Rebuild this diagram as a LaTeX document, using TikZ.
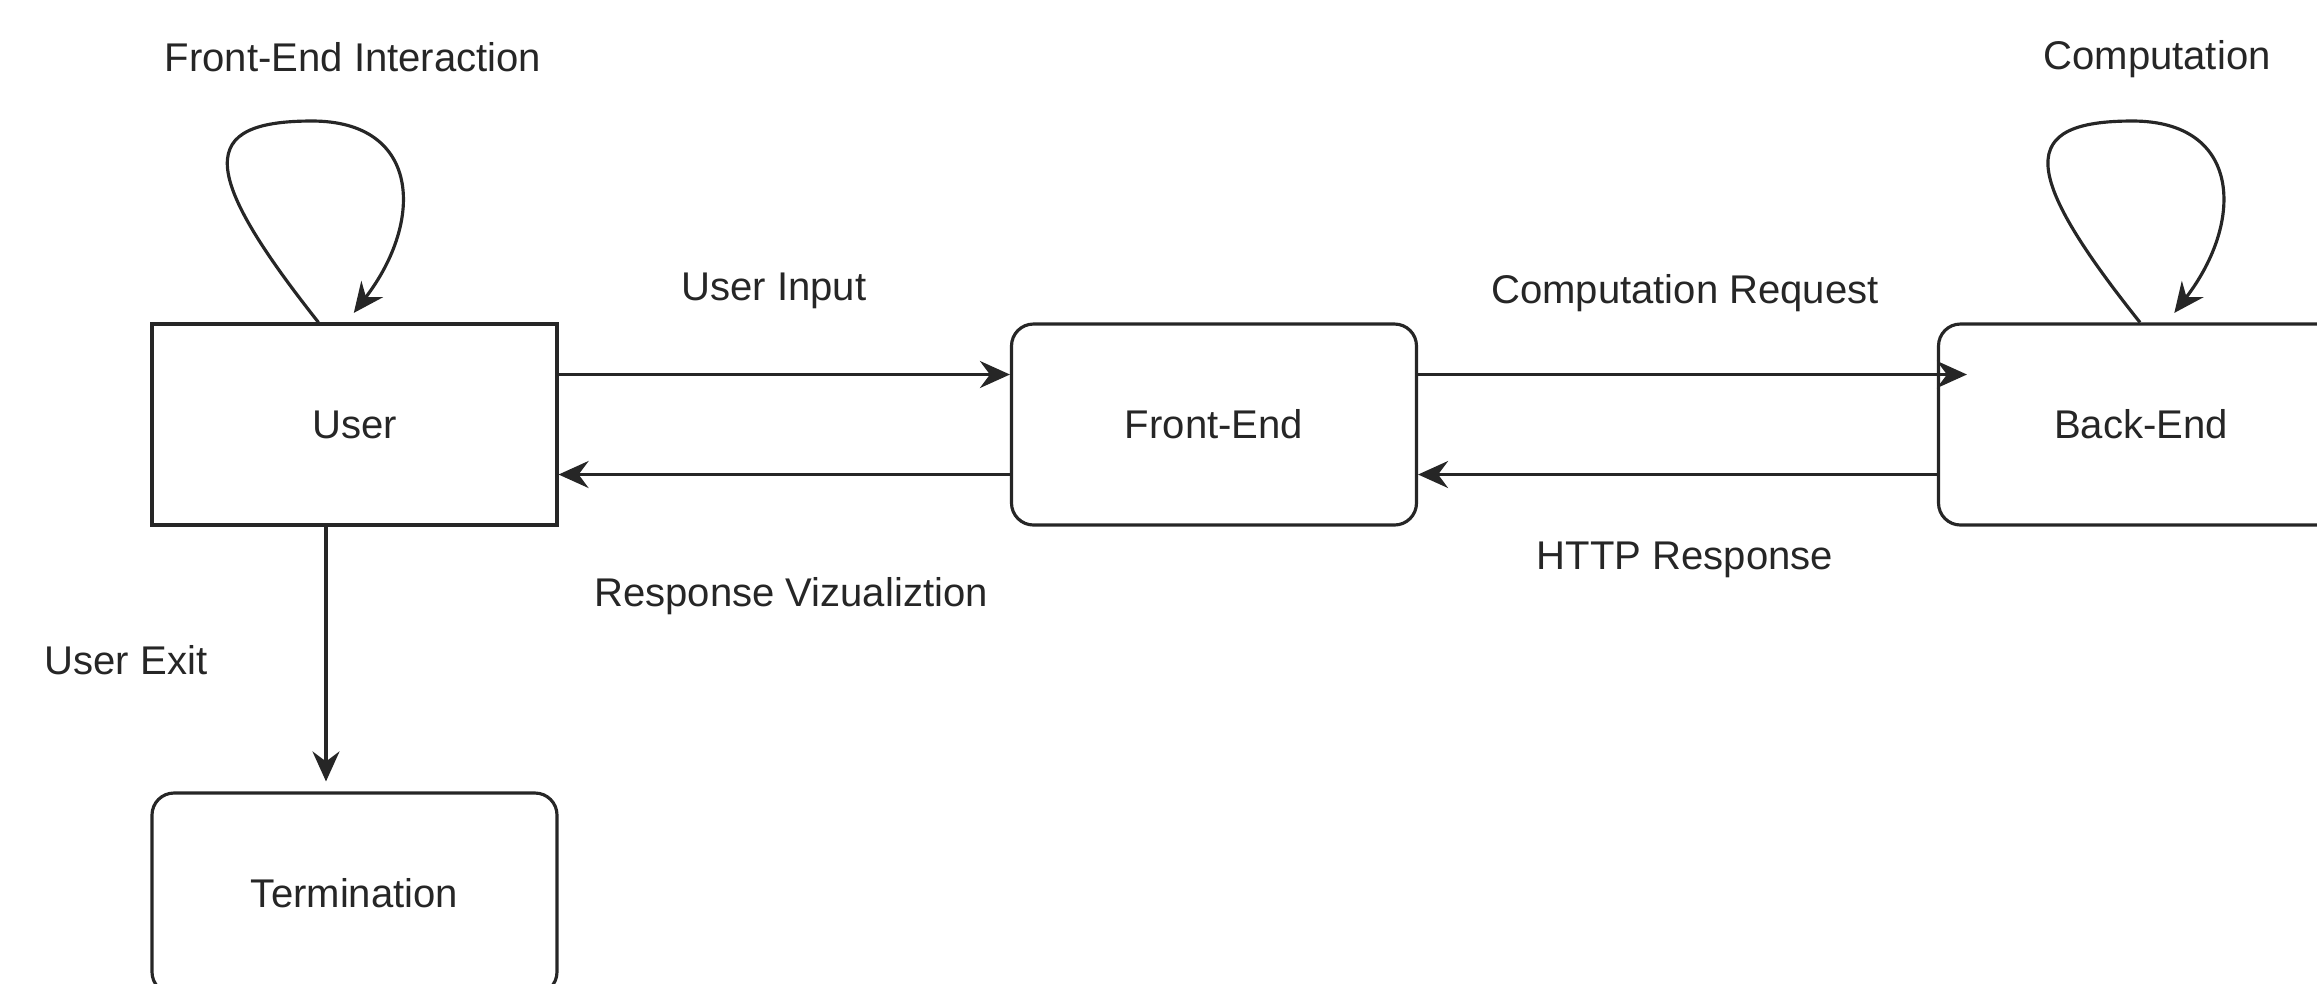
\documentclass[tikz,border=0pt]{standalone}
\usepackage{fontspec}
\setmainfont{Liberation Sans}
\usetikzlibrary{arrows.meta}

\begin{document}
\begin{tikzpicture}[
  font=\fontsize{11.4}{13.7}\selectfont,
  every node/.style={text=black!85},
  state/.style={draw=black!85, line width=0.9pt, minimum width=4.05cm, minimum height=2.01cm, inner sep=0pt},
  roundstate/.style={state, rounded corners=0.22cm},
  flow/.style={draw=black!85, line width=0.9pt, -{Stealth[length=3mm,width=2.7mm,inset=1mm]}}
]
\useasboundingbox (0,0) rectangle (23.17,-9.83);
\clip (0,0) rectangle (23.17,-9.83);
\pgfmathsetmacro{\rowy}{-4.245}
\pgfmathsetmacro{\userx}{3.545}
\node[state] (user) at (\userx,\rowy) {User};
\node[roundstate] (frontend) at (12.14,\rowy) {Front-End};
\node[roundstate] (backend) at (21.41,\rowy) {Back-End};
\node[roundstate] (termination) at (\userx,-8.935) {Termination};

\node (lblinteraction) at (3.53,-0.57) {Front-End Interaction};
\node (lblcomputation) at (21.57,-0.59) {Computation};
\node (lblinput) at (7.74,-2.91) {User Input};
\node (lblvisual) at (7.91,-5.96) {Response Vizualiztion};
\node (lblrequest) at (16.85,-2.93) {Computation Request};
\node (lblhttp) at (16.85,-5.60) {HTTP Response};
\node (lblexit) at (1.26,-6.60) {User Exit};

\draw[flow] ([yshift=5mm]user.east) -- ([yshift=5mm]frontend.west);
\draw[flow] ([yshift=-5mm]frontend.west) -- ([yshift=-5mm]user.east);
\draw[flow] ([yshift=5mm]frontend.east) -- ([xshift=3mm,yshift=5mm]backend.west);
\draw[flow] ([yshift=-5mm]backend.west) -- ([yshift=-5mm]frontend.east);
\draw[flow, shorten >=1mm] ([xshift=-2.85mm]user.south) -- ([xshift=-2.85mm]termination.north);
\draw[flow, shorten >=1.2mm] ([xshift=-3.6mm]user.north) .. controls (1.98,-1.7) and (1.98,-1.21) .. (3.12,-1.21) .. controls (4.2,-1.21) and (4.25,-2.2) .. ([xshift=-0.8mm]user.north);
\draw[flow, shorten >=1.2mm] ([xshift=-0.1mm]backend.north) .. controls (20.185,-1.7) and (20.185,-1.21) .. (21.325,-1.21) .. controls (22.405,-1.21) and (22.455,-2.2) .. ([xshift=2.6mm]backend.north);
\end{tikzpicture}
\end{document}
